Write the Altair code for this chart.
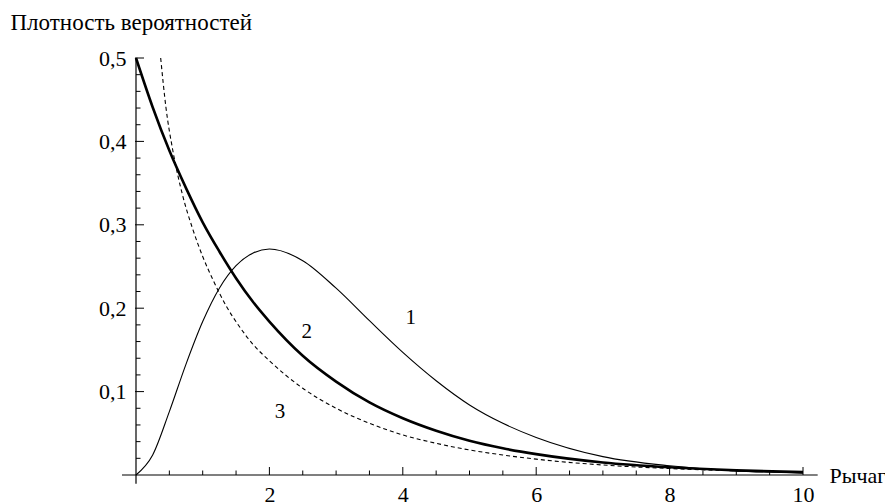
import altair as alt
import pandas as pd

# ---- data ----
xs = [0, 0.25, 0.5, 0.75, 1, 1.25, 1.5, 1.75, 2, 2.5, 3, 3.5, 4, 4.5, 5, 5.5, 6, 7, 8, 9, 10]
curve1 = [0, 0.024, 0.076, 0.133, 0.184, 0.224, 0.251, 0.266, 0.271, 0.257, 0.224, 0.185,
          0.147, 0.113, 0.084, 0.062, 0.045, 0.022, 0.011, 0.005, 0.0023]
curve2 = [0.5, 0.441, 0.389, 0.344, 0.303, 0.268, 0.236, 0.208, 0.184, 0.143, 0.112, 0.087,
          0.068, 0.053, 0.041, 0.032, 0.025, 0.015, 0.0092, 0.0056, 0.0034]
xs3 = [0.37, 0.45, 0.55, 0.7, 0.85, 1, 1.16, 1.35, 1.55, 1.75, 2, 2.5, 3, 3.5, 4, 4.5, 5,
       5.5, 6, 7, 8, 9, 10]
curve3 = [0.5, 0.44, 0.39, 0.335, 0.295, 0.262, 0.233, 0.203, 0.178, 0.157, 0.137, 0.104,
          0.080, 0.062, 0.048, 0.038, 0.030, 0.024, 0.019, 0.012, 0.0078, 0.005, 0.0032]

label_text = ["1", "2", "3"]
label_x = [4.12, 2.56, 2.16]
label_y = [0.188, 0.171, 0.075]

x_major = [2, 4, 6, 8, 10]
x_minor = [0.5, 1, 1.5, 2.5, 3, 3.5, 4.5, 5, 5.5, 6.5, 7, 7.5, 8.5, 9, 9.5]
y_major = [0.1, 0.2, 0.3, 0.4, 0.5]
y_minor = [0.02, 0.04, 0.06, 0.08, 0.12, 0.14, 0.16, 0.18, 0.22, 0.24, 0.26, 0.28,
           0.32, 0.34, 0.36, 0.38, 0.42, 0.44, 0.46, 0.48]

x_title = "Рычаг"
y_title = "Плотность вероятностей"

W, H = 667, 417
FONT = "Liberation Serif"

xscale = alt.Scale(domain=[0, 10], nice=False, zero=False)
yscale = alt.Scale(domain=[0, 0.5], nice=False, zero=False)

xaxis = alt.Axis(values=x_major, domain=False, ticks=False, grid=False,
                 labelFont=FONT, labelFontSize=22, labelColor="black", labelPadding=9,
                 labelFlush=False, title=x_title, titleFont=FONT, titleFontSize=22,
                 titleFontWeight="normal", titleColor="black", titleAlign="left",
                 titleBaseline="middle", titleX=693, titleY=0, titleAnchor="start")
yaxis = alt.Axis(values=y_major, domain=False, ticks=False, grid=False, format=".1f",
                 labelExpr="replace(datum.label, '.', ',')",
                 labelFont=FONT, labelFontSize=22, labelColor="black", labelPadding=10,
                 labelFlush=False, title=y_title, titleFont=FONT, titleFontSize=23,
                 titleFontWeight="normal", titleColor="black", titleAngle=0,
                 titleAlign="left", titleBaseline="middle", titleX=-126, titleY=-36,
                 titleAnchor="start")

X = alt.X("x:Q", scale=xscale, axis=xaxis)
Y = alt.Y("y:Q", scale=yscale, axis=yaxis)

df1 = pd.DataFrame({"x": xs, "y": curve1})
df2 = pd.DataFrame({"x": xs, "y": curve2})
df3 = pd.DataFrame({"x": xs3, "y": curve3})
dfl = pd.DataFrame({"x": label_x, "y": label_y, "t": label_text})

line1 = alt.Chart(df1).mark_line(color="black", strokeWidth=1.1, interpolate="monotone").encode(x=X, y=Y)
line2 = alt.Chart(df2).mark_line(color="black", strokeWidth=2.6, interpolate="monotone").encode(x=X, y=Y)
line3 = alt.Chart(df3).mark_line(color="black", strokeWidth=1.1, strokeDash=[4, 3],
                                 interpolate="monotone").encode(x=X, y=Y)

labels = alt.Chart(dfl).mark_text(font=FONT, fontSize=21, color="black").encode(x=X, y=Y, text="t:N")

# axis lines (Mathematica-style axes crossing at the origin)
xline = alt.Chart(pd.DataFrame({"x": [-0.21], "x2": [10.22], "y": [0]})).mark_rule(
    color="black", strokeWidth=1.2).encode(x=X, x2="x2:Q", y=Y)
yline = alt.Chart(pd.DataFrame({"x": [0], "y": [-0.0105], "y2": [0.5]})).mark_rule(
    color="black", strokeWidth=1.2).encode(x=X, y=Y, y2="y2:Q")

# inward ticks
xmaj = alt.Chart(pd.DataFrame({"x": x_major})).mark_rule(color="black", strokeWidth=1).encode(
    x=X, y=alt.value(H), y2=alt.value(H - 8))
xmin = alt.Chart(pd.DataFrame({"x": x_minor})).mark_rule(color="black", strokeWidth=1).encode(
    x=X, y=alt.value(H), y2=alt.value(H - 4.5))
ymaj = alt.Chart(pd.DataFrame({"y": y_major})).mark_rule(color="black", strokeWidth=1).encode(
    y=Y, x=alt.value(-1), x2=alt.value(8))
ymin = alt.Chart(pd.DataFrame({"y": y_minor})).mark_rule(color="black", strokeWidth=1).encode(
    y=Y, x=alt.value(0), x2=alt.value(4.5))

chart = alt.layer(xline, yline, xmaj, xmin, ymaj, ymin, line1, line2, line3, labels).properties(
    width=W, height=H,
    autosize=alt.AutoSizeParams(type="none"),
    padding={"left": 128, "top": 50, "right": 82, "bottom": 29},
    background="white",
).configure_view(stroke=None)

chart.save("out.html", embed_options={"renderer": "svg", "actions": False})
